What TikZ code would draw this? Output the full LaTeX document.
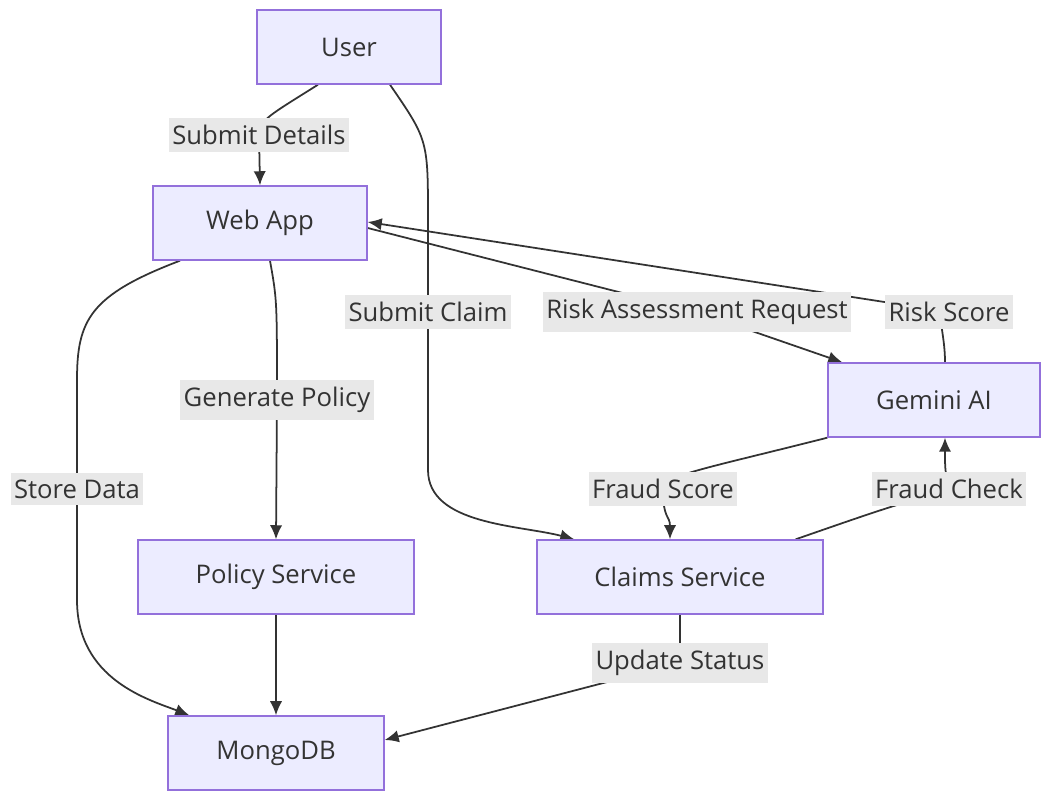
\documentclass[tikz,border=0pt]{standalone}
\usepackage{fontspec}
\setmainfont{Open Sans}
\usetikzlibrary{arrows.meta,backgrounds}
\definecolor{boxfill}{HTML}{ECECFF}
\definecolor{boxline}{HTML}{9370DB}
\definecolor{lblfill}{HTML}{E8E8E8}
\definecolor{ink}{HTML}{333333}
\begin{document}
\begin{tikzpicture}[x=0.02cm, y=-0.02cm, >={Latex[length=8pt,width=7pt]}]
    \tikzstyle{box}=[draw=boxline, fill=boxfill, line width=0.8pt, minimum height=1.48cm, text=ink, font=\fontsize{14.6}{17}\selectfont]
    \tikzstyle{lbl}=[fill=lblfill, inner xsep=2pt, inner ysep=4pt, text=ink, font=\fontsize{14.6}{17}\selectfont]
    \tikzstyle{flow}=[->, draw=ink, line width=1pt]
    \useasboundingbox (0,0) rectangle (1042,793);
    \node[box, minimum width=3.68cm] (user) at (349,47) {User};
    \node[box, minimum width=4.28cm] (webapp) at (260,223) {Web App};
    \node[box, minimum width=4.24cm] (gemini) at (934,400) {Gemini AI};
    \node[box, minimum width=5.52cm] (policy) at (276,577) {Policy Service};
    \node[box, minimum width=5.72cm] (claims) at (680,577) {Claims Service};
    \node[box, minimum width=4.32cm] (mongo) at (276,753) {MongoDB};
    \node[lbl] (details) at (259,135) {Submit Details};
    \node[lbl] (claim) at (428,312) {Submit Claim};
    \node[lbl] (riskreq) at (697,312) {Risk Assessment Request};
    \node[lbl] (riskscore) at (949,312) {Risk Score};
    \node[lbl] (genpolicy) at (277,400) {Generate Policy};
    \node[lbl] (store) at (77,489) {Store Data};
    \node[lbl] (fraudscore) at (663,489) {Fraud Score};
    \node[lbl] (fraudcheck) at (949,489) {Fraud Check};
    \node[lbl] (status) at (680,663) {Update Status};
    \begin{scope}[on background layer]
    \draw[flow] ([xshift=-0.62cm]user.south) .. controls (270,115) and (259,120) .. (details.center) -- (webapp.north);
    \draw[flow] ([xshift=0.82cm]user.south) .. controls (428,140) .. (428,220) -- (claim.center) -- (428,470) .. controls (428,525) and (520,525) .. ([xshift=0.76cm]claims.north west);
    \draw[flow] ([yshift=-0.1cm]webapp.east) -- (riskreq.center) -- ([xshift=0.3cm]gemini.north west);
    \draw[flow] ([xshift=0.22cm]gemini.north) .. controls (945,330) and (935,318) .. (riskscore.center) -- ([yshift=0.02cm]webapp.east);
    \draw[flow] ([xshift=-1.6cm]webapp.south) .. controls (90,295) and (77,320) .. (77,380) -- (store.center) -- (77,600) .. controls (77,680) and (150,700) .. ([xshift=0.44cm]mongo.north west);
    \draw[flow] ([xshift=0.2cm]webapp.south) .. controls (277,300) .. (genpolicy.center) -- (policy.north);
    \draw[flow] (gemini.south west) .. controls (700,470) and (665,475) .. (fraudscore.center) .. controls (663,520) and (670,515) .. ([xshift=-0.2cm]claims.north);
    \draw[flow] ([xshift=-0.56cm]claims.north east) .. controls (880,510) .. (fraudcheck.center) .. controls (945,470) .. ([xshift=0.22cm]gemini.south);
    \draw[flow] (claims.south) .. controls (680,640) .. (status.center) -- ([yshift=0.26cm]mongo.east);
    \draw[flow] (policy) -- (mongo);
    \end{scope}
\end{tikzpicture}
\end{document}
